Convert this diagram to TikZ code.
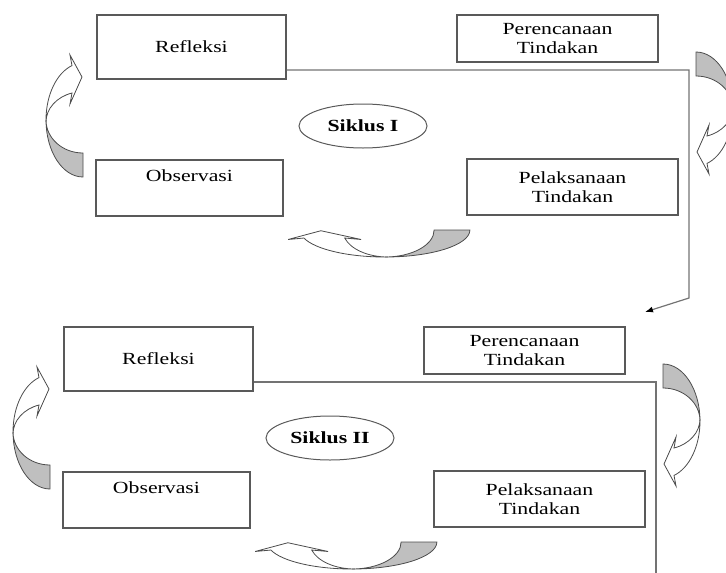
\documentclass[tikz,border=0pt]{standalone}
\usepackage{fontspec}
\setmainfont{Liberation Serif}
\newfontfamily\boxfont[FakeStretch=1.28]{Liberation Serif}
\usetikzlibrary{arrows.meta}
\usetikzlibrary{shapes.geometric}

\tikzset{
  box/.style={draw=black!65, line width=1.1pt, align=center, text=black,
    font=\boxfont\fontsize{17pt}{18.5pt}\selectfont},
  siklus/.style={ellipse, draw=black!65, line width=1pt, inner sep=0pt,
    minimum width=128pt, minimum height=44pt,
    font=\boxfont\bfseries\fontsize{17pt}{18.5pt}\selectfont},
  link/.style={draw=black!55, line width=1.2pt},
  curvarrow/.pic={
    \path [draw=black!70, fill=black!25, line width=0.8pt] (0,37) -- (0,61) arc [start angle=90, end angle=180, x radius=37, y radius=57] arc [start angle=180, end angle=90, x radius=37, y radius=33] -- cycle;
    \path [draw=black!70, fill=white, line width=0.8pt] (-37,4) arc [start angle=180, end angle=252.7, x radius=37, y radius=57] -- (-13,-61) -- (-1,-39) -- (-13,-12) -- (-11,-23) arc [start angle=252.7, end angle=180, x radius=37, y radius=30.4] -- cycle;
  }
}

\begin{document}
\begin{tikzpicture}[x=1pt, y=-1pt]
\clip (0,0) rectangle (726,573);
% siklus I
\node [box, minimum width=189pt, minimum height=64pt] (refl1) at (191.5,47) {Refleksi};
\node [box, minimum width=201pt, minimum height=47pt] (pren1) at (557.5,38.5) {Perencanaan\\Tindakan};
\node [box, minimum width=187pt, minimum height=56pt, text depth=24pt] (obs1) at (189.5,188) {Observasi};
\node [box, minimum width=211pt, minimum height=56pt] (pel1) at (572.5,187) {Pelaksanaan\\Tindakan};
\node [siklus] (sik1) at (363,126) {Siklus I};
\pic at (83,116) {curvarrow};
\pic [rotate=180] at (696,113) {curvarrow};
\pic [xscale=1.49, yscale=0.73, rotate=90] at (379,230) {curvarrow};
\coordinate (turn1) at (689,70);
\coordinate (bend1) at (689,298);
\coordinate (tip1) at (645,312);
\draw [link, -{Latex[length=8pt,width=6pt,black]}] (refl1.east |- turn1) -- (turn1) -- (bend1) -- (tip1);
% siklus II
\begin{scope}[shift={(-33,312)}]
\node [box, minimum width=189pt, minimum height=64pt] (refl2) at (191.5,47) {Refleksi};
\node [box, minimum width=201pt, minimum height=47pt] (pren2) at (557.5,38.5) {Perencanaan\\Tindakan};
\node [box, minimum width=187pt, minimum height=56pt, text depth=24pt] (obs2) at (189.5,188) {Observasi};
\node [box, minimum width=211pt, minimum height=56pt] (pel2) at (572.5,187) {Pelaksanaan\\Tindakan};
\node [siklus] (sik2) at (363,126) {Siklus II};
\pic at (83,116) {curvarrow};
\pic [rotate=180] at (696,113) {curvarrow};
\pic [xscale=1.49, yscale=0.73, rotate=90] at (379,230) {curvarrow};
\coordinate (turn2) at (689,70);
\coordinate (end2) at (689,300);
\draw [link] (refl2.east |- turn2) -- (turn2) -- (end2);
\end{scope}
\end{tikzpicture}
\end{document}
